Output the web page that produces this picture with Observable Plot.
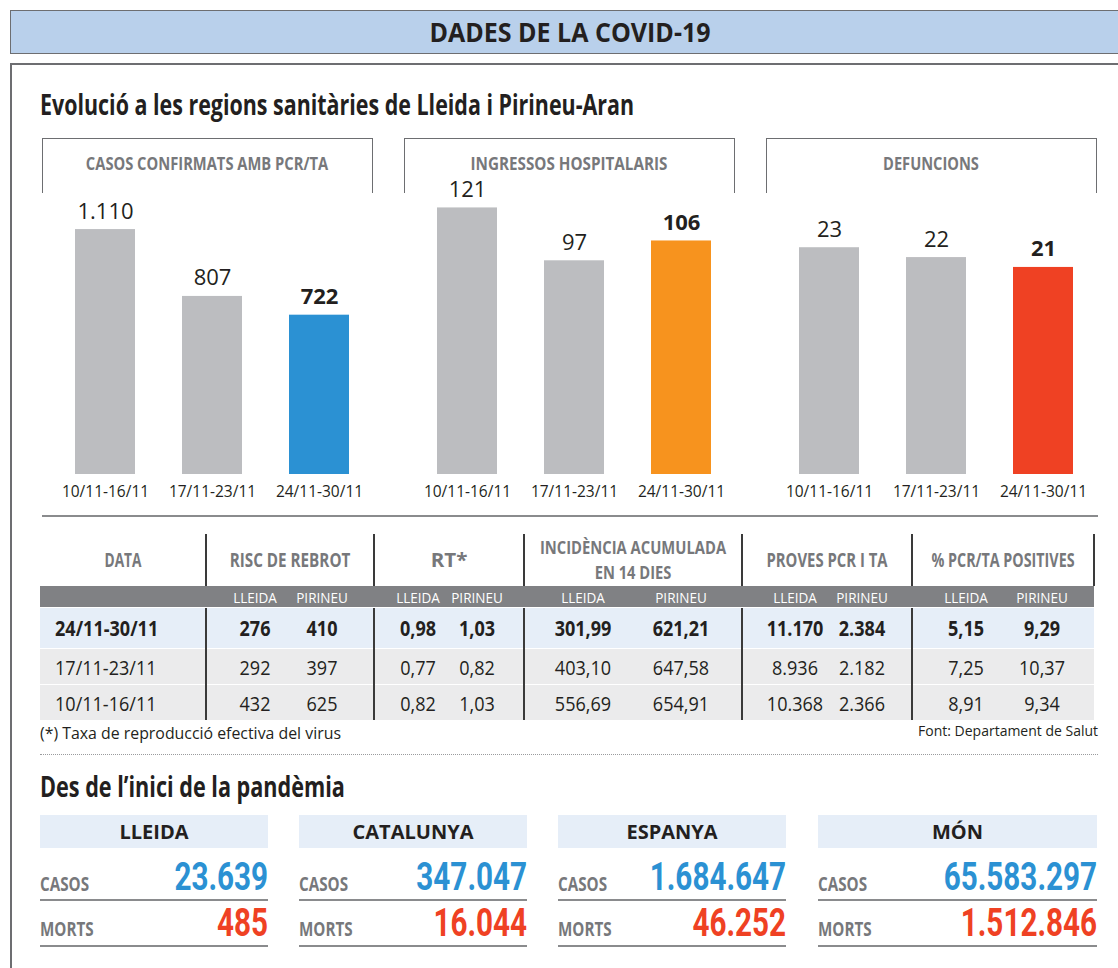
<!DOCTYPE html>
<html>
<head>
<meta charset="utf-8">
<script src="https://cdn.jsdelivr.net/npm/d3@7"></script>
<script src="https://cdn.jsdelivr.net/npm/@observablehq/plot@0.6"></script>
<style>
  html, body { margin: 0; padding: 0; background: #fff; }
  #page { position: relative; width: 1118px; height: 968px; overflow: hidden; background: #fff; }
  .abs { position: absolute; white-space: nowrap; line-height: 1; font-family: "Open Sans", "Noto Sans", sans-serif; }
</style>
</head>
<body>
<div id="page"></div>
<script>
// ---------------- DATA ----------------
const weeks = ["10/11-16/11", "17/11-23/11", "24/11-30/11"];
const panelTitles = ["CASOS CONFIRMATS AMB PCR/TA", "INGRESSOS HOSPITALARIS", "DEFUNCIONS"];
const casosConfirmats = [1110, 807, 722];
const ingressosHospitalaris = [121, 97, 106];
const defuncions = [23, 22, 21];
const panelYMax = [1278, 128, 28.6];
const highlightColors = ["#2b91d3", "#f7931e", "#ef4123"];

const tableDates = ["24/11-30/11", "17/11-23/11", "10/11-16/11"];
const tableHeaders = ["DATA", "RISC DE REBROT", "RT*", "INCIDÈNCIA ACUMULADA|EN 14 DIES", "PROVES PCR I TA", "% PCR/TA POSITIVES"];
const subHeaders = ["LLEIDA", "PIRINEU"];
const riscLleida = [276, 292, 432];
const riscPirineu = [410, 397, 625];
const rtLleida = [0.98, 0.77, 0.82];
const rtPirineu = [1.03, 0.82, 1.03];
const iaLleida = [301.99, 403.10, 556.69];
const iaPirineu = [621.21, 647.58, 654.91];
const pcrLleida = [11170, 8936, 10368];
const pcrPirineu = [2384, 2182, 2366];
const posLleida = [5.15, 7.25, 8.91];
const posPirineu = [9.29, 10.37, 9.34];

const regions = ["LLEIDA", "CATALUNYA", "ESPANYA", "MÓN"];
const totalCasos = [23639, 347047, 1684647, 65583297];
const totalMorts = [485, 16044, 46252, 1512846];

// ---------------- HELPERS ----------------
const ca = d3.formatLocale({decimal: ",", thousands: ".", grouping: [3], currency: ["", " €"]});
const fInt = ca.format(",d");
const fDec = ca.format(",.2f");

const page = document.getElementById("page");
const fitted = [];
function box(x, y, w, h, css) {
  const d = document.createElement("div");
  d.className = "abs";
  Object.assign(d.style, {left: x + "px", top: y + "px", width: w + "px", height: h + "px", boxSizing: "border-box"}, css || {});
  page.appendChild(d);
  return d;
}
// text with its visual centre at y; anchor start|middle|end at x; sx = horizontal condensation, fit = target width
function txt(s, x, y, o) {
  const d = document.createElement("div");
  d.className = "abs";
  d.textContent = s;
  const tx = o.anchor === "middle" ? "-50%" : o.anchor === "end" ? "-100%" : "0";
  const origin = o.anchor === "middle" ? "50% 50%" : o.anchor === "end" ? "100% 50%" : "0 50%";
  Object.assign(d.style, {
    left: x + "px", top: y + "px", fontSize: o.size + "px", fontWeight: o.weight || 400,
    color: o.color || "#231f20", transformOrigin: origin
  });
  if (o.family) d.style.fontFamily = o.family;
  d._tx = tx; d._sx = o.sx || 1; d._fit = o.fit;
  page.appendChild(d);
  fitted.push(d);
  return d;
}
function applyFit() {
  fitted.forEach(d => {
    let k = d._sx;
    if (d._fit) k = d._fit / d.offsetWidth;
    d.style.transform = `translate(${d._tx}, -50%) scaleX(${k})`;
  });
}

const GREY_TXT = "#77787b";

// ---------------- HEADER & FRAME ----------------
box(10, 10, 1130, 44, {background: "#b9d0eb", border: "1.5px solid #6d6e71"});
txt("DADES DE LA COVID-19", 570, 32, {size: 26, weight: 700, anchor: "middle", fit: 281});
box(10, 63, 1130, 930, {border: "2px solid #6d6e71"});
txt("Evolució a les regions sanitàries de Lleida i Pirineu-Aran", 40, 104, {size: 28, weight: 700, fit: 594});

// ---------------- BAR PANELS ----------------
const panelLeft = [42, 404, 766];
const panelTitleW = [242, 197, 96];
const panelSeries = [casosConfirmats, ingressosHospitalaris, defuncions];
panelSeries.forEach((vals, p) => {
  const x0 = panelLeft[p];
  box(x0, 138, 331, 55, {borderTop: "1.5px solid #6d6e71", borderLeft: "1.5px solid #6d6e71", borderRight: "1.5px solid #6d6e71"});
  txt(panelTitles[p], x0 + 165, 163, {size: 18, weight: 700, color: GREY_TXT, anchor: "middle", fit: panelTitleW[p]});
  const rows = weeks.map((w, i) => ({week: w, value: vals[i], last: i === weeks.length - 1,
    color: i === weeks.length - 1 ? highlightColors[p] : "#bcbdc0"}));
  const chart = Plot.plot({
    width: 330, height: 320,
    marginLeft: 32, marginRight: 21, marginTop: 0, marginBottom: 38,
    style: {fontFamily: "'Open Sans', 'Noto Sans', sans-serif", fontSize: "15.5px", color: "#231f20", background: "transparent", overflow: "visible"},
    x: {type: "band", domain: weeks, paddingInner: 0.435, paddingOuter: 0, label: null, tickSize: 0, tickPadding: 11},
    y: {domain: [0, panelYMax[p]], axis: null},
    color: {type: "identity"},
    marks: [
      Plot.barY(rows, {x: "week", y: "value", fill: "color"}),
      Plot.text(rows.filter(d => !d.last), {x: "week", y: "value", text: d => fInt(d.value), dy: -18, fontSize: 22, fill: "#231f20"}),
      Plot.text(rows.filter(d => d.last), {x: "week", y: "value", text: d => fInt(d.value), dy: -18, fontSize: 22, fontWeight: 700, fill: "#231f20"})
    ]
  });
  chart.style.position = "absolute";
  chart.style.left = x0 + "px";
  chart.style.top = "192px";
  page.appendChild(chart);
});

// separator
box(42, 515, 1056, 2, {background: "#8a8b8d"});

// ---------------- TABLE ----------------
const colEdges = [40, 206, 374, 524, 742, 912, 1094];
const headerW = [[37], [121], [37], [186, 77], [121], [143]];
const subCentres = [[255, 322], [418, 477], [583, 681], [795, 862], [966, 1042]];
tableHeaders.forEach((h, i) => {
  const cx = (colEdges[i] + colEdges[i + 1]) / 2;
  const lines = h.split("|");
  lines.forEach((ln, j) => {
    const cy = lines.length === 1 ? 560 : 547 + j * 25;
    txt(ln, cx, cy, {size: lines.length === 1 ? 20 : 18.5, weight: 700, color: GREY_TXT, anchor: "middle", fit: headerW[i][j]});
  });
});
box(40, 586, 1054, 21, {background: "#808184"});
subCentres.forEach(pair => pair.forEach((cx, j) => txt(subHeaders[j], cx, 597, {size: 15, color: "#fff", anchor: "middle", sx: 0.9})));
const rowTop = [608, 649, 685];
const rowH = [40, 35, 35];
const rowFill = ["#e6eef8", "#ebebec", "#ebebec"];
const tableSeries = [[riscLleida, riscPirineu, fInt], [rtLleida, rtPirineu, fDec], [iaLleida, iaPirineu, fDec], [pcrLleida, pcrPirineu, fInt], [posLleida, posPirineu, fDec]];
tableDates.forEach((d, r) => {
  box(40, rowTop[r], 1054, rowH[r], {background: rowFill[r]});
  const cy = rowTop[r] + rowH[r] / 2;
  const w = r === 0 ? 700 : 400;
  txt(d, 55, cy, {size: 20.5, weight: w, sx: 0.88});
  tableSeries.forEach(([a, b, f], g) => {
    txt(f(a[r]), subCentres[g][0], cy, {size: 20.5, weight: w, anchor: "middle", sx: 0.88});
    txt(f(b[r]), subCentres[g][1], cy, {size: 20.5, weight: w, anchor: "middle", sx: 0.88});
  });
});
colEdges.slice(1, -1).forEach(x => {
  box(x - 0.75, 534, 1.5, 52, {background: "#3a3a3a"});
  box(x - 0.75, 608, 1.5, 112, {background: "#3a3a3a"});
});
box(1093, 534, 1.5, 52, {background: "#3a3a3a"});
txt("(*) Taxa de reproducció efectiva del virus", 40, 733, {size: 16.5, fit: 301});
txt("Font: Departament de Salut", 1098, 730, {size: 15, anchor: "end", fit: 180});
box(40, 754, 1058, 0, {borderTop: "1.5px dotted #9a9b9d"});

// ---------------- SINCE START ----------------
txt("Des de l’inici de la pandèmia", 40, 786, {size: 28, weight: 700, fit: 305});
const regLeft = [40, 299, 558, 818];
const regWidth = [228, 228, 228, 279];
const BIG = "Roboto, 'Open Sans', sans-serif";
regions.forEach((r, i) => {
  const x0 = regLeft[i], w = regWidth[i];
  box(x0, 815, w, 33, {background: "#e6eef8"});
  txt(r, x0 + w / 2, 832, {size: 20, weight: 700, anchor: "middle"});
  txt("CASOS", x0, 884, {size: 19, weight: 700, color: GREY_TXT, sx: 0.8});
  txt(fInt(totalCasos[i]), x0 + w, 877, {size: 38, weight: 700, color: "#2b91d3", anchor: "end", sx: 0.78, family: BIG});
  box(x0, 899, w, 2, {background: "#8a8b8d"});
  txt("MORTS", x0, 929, {size: 19, weight: 700, color: GREY_TXT, sx: 0.8});
  txt(fInt(totalMorts[i]), x0 + w, 923, {size: 38, weight: 700, color: "#ef4123", anchor: "end", sx: 0.78, family: BIG});
  box(x0, 945, w, 2, {background: "#8a8b8d"});
});

applyFit();
if (document.fonts && document.fonts.ready) document.fonts.ready.then(applyFit);
</script>
</body>
</html>
